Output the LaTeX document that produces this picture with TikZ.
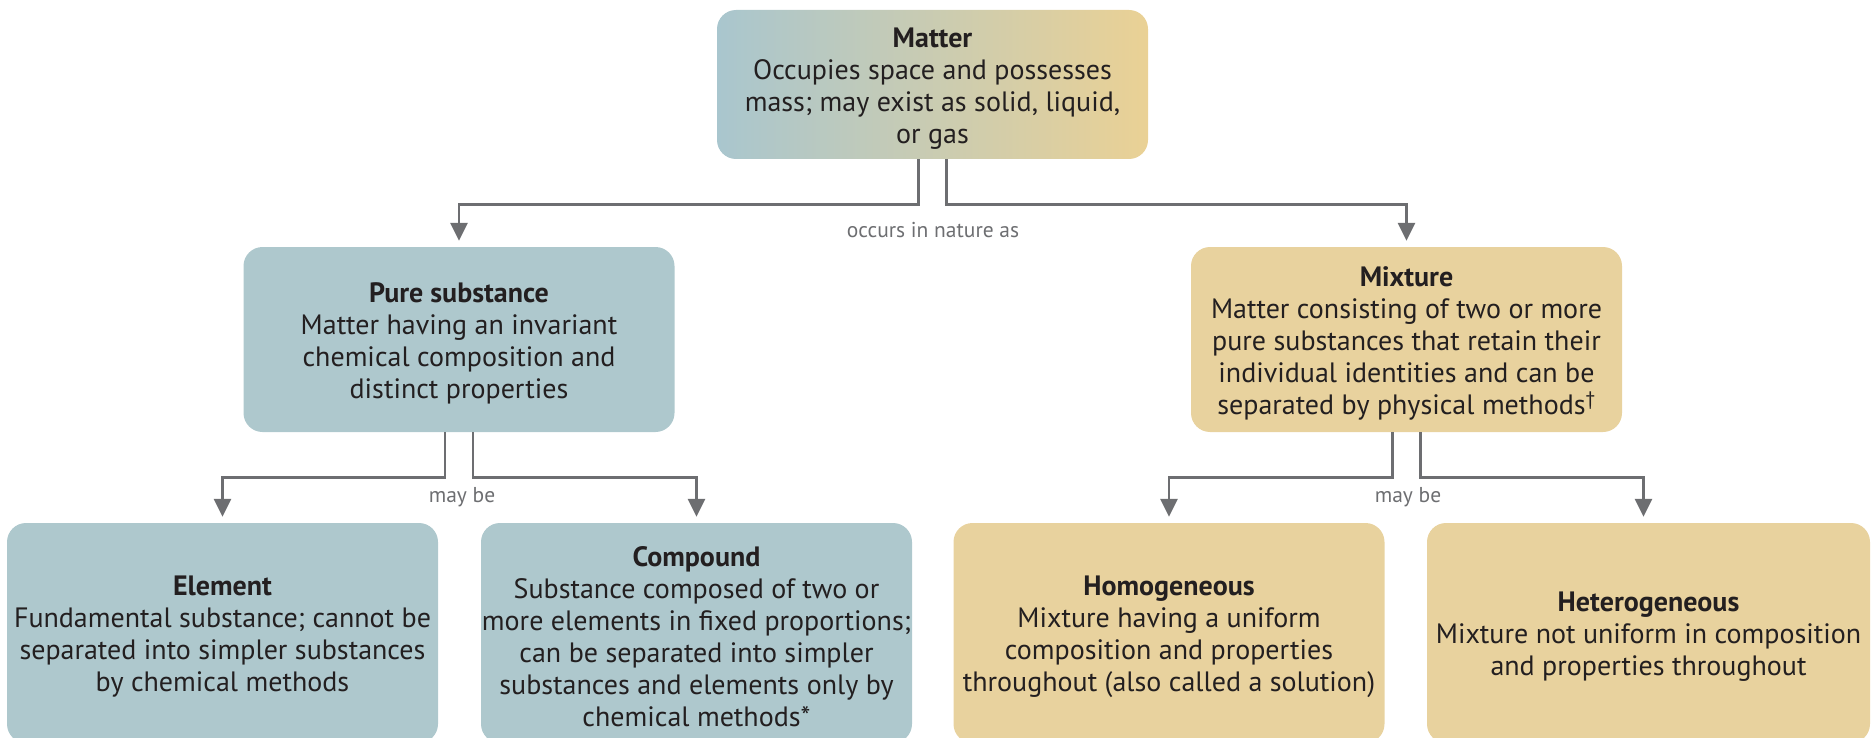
\documentclass[tikz,border=0pt]{standalone}
\usepackage{fontspec}
\setmainfont{PT Sans}
\usetikzlibrary{arrows.meta}
\definecolor{boxblue}{HTML}{AEC8CD}
\definecolor{boxtan}{HTML}{E8D29E}
\definecolor{gradblue}{HTML}{A9C6CE}
\definecolor{gradtan}{HTML}{EAD195}
\definecolor{linegray}{HTML}{6D6E71}
\definecolor{txt}{HTML}{231F20}
\tikzset{
  box/.style={rectangle, rounded corners=19pt, inner sep=0pt, align=center,
    text=txt, font=\fontsize{28}{32}\selectfont, minimum width=431pt},
  bluebox/.style={box, fill=boxblue},
  tanbox/.style={box, fill=boxtan},
  conn/.style={draw=linegray, line width=2.8pt,
    -{Triangle[width=17pt,length=18pt]}, shorten >=6pt},
  lbl/.style={text=linegray, font=\fontsize{21.5}{24}\selectfont, inner sep=0pt}
}
\begin{document}
\begin{tikzpicture}[x=1pt,y=-1pt]
\useasboundingbox (0,0) rectangle (1871,738);
\node[box, left color=gradblue, right color=gradtan, minimum height=149pt] (matter) at (932.5,84.5)
  {\rule{0pt}{27pt}\textbf{Matter}\\Occupies space and possesses\\mass; may exist as solid, liquid,\\or gas};
\node[bluebox, minimum height=185pt] (pure) at (459,339.5)
  {\rule{0pt}{27pt}\textbf{Pure substance}\\Matter having an invariant\\chemical composition and\\distinct properties};
\node[tanbox, minimum height=185pt] (mix) at (1406.5,339.5)
  {\rule{0pt}{27pt}\textbf{Mixture}\\Matter consisting of two or more\\pure substances that retain their\\individual identities and can be\\separated by physical methods\textsuperscript{\textdagger}};
\node[bluebox, minimum height=220pt] (elem) at (222.5,633)
  {\rule{0pt}{27pt}\textbf{Element}\\Fundamental substance; cannot be\\separated into simpler substances\\by chemical methods};
\node[bluebox, minimum height=220pt] (comp) at (696.5,633)
  {\rule{0pt}{27pt}\textbf{Compound}\\Substance composed of two or\\more elements in fixed proportions;\\can be separated into simpler\\substances and elements only by\\chemical methods*};
\node[tanbox, minimum height=220pt] (homo) at (1169,633)
  {\rule{0pt}{27pt}\textbf{Homogeneous}\\Mixture having a uniform\\composition and properties\\throughout (also called a solution)};
\node[tanbox, minimum height=220pt, minimum width=443pt] (hetero) at (1648.5,633)
  {\rule{0pt}{27pt}\textbf{Heterogeneous}\\Mixture not uniform in composition\\and properties throughout};
\draw[conn] ([xshift=-14pt]matter.south) -- ++(0,45) -| (pure.north);
\draw[conn] ([xshift=14pt]matter.south) -- ++(0,45) -| (mix.north);
\draw[conn] ([xshift=-14pt]pure.south) -- ++(0,45) -| (elem.north);
\draw[conn] ([xshift=14pt]pure.south) -- ++(0,45) -| (comp.north);
\draw[conn] ([xshift=-14pt]mix.south) -- ++(0,45) -| (homo.north);
\draw[conn] ([xshift=14pt]mix.south) -- ++(0,45) -| ([xshift=-5pt]hetero.north);
\node[lbl] (l1) at (933,230) {occurs in nature as};
\node[lbl] (l2) at (462,497) {may be};
\node[lbl] (l3) at (1408,497) {may be};
\end{tikzpicture}
\end{document}
